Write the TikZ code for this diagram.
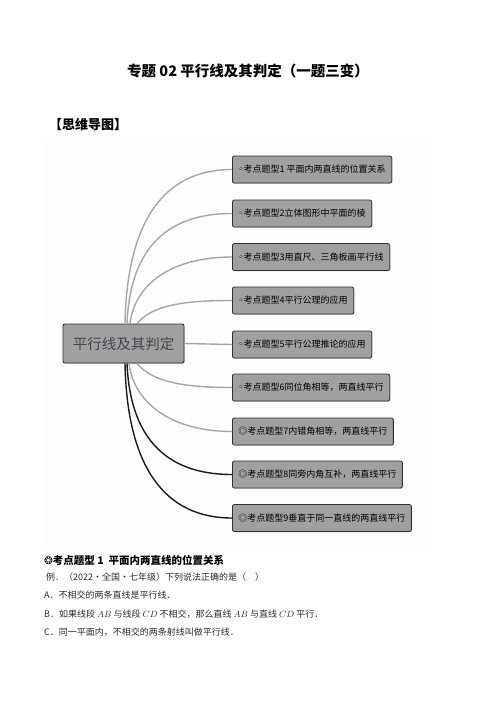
\documentclass[tikz,border=0pt]{standalone}
\usepackage{fontspec}
\setmainfont{Noto Sans CJK SC}
\newfontfamily\symfont{DejaVu Sans}
\usetikzlibrary{shadows}
\definecolor{boxgrey}{HTML}{A0A0A0}
\definecolor{edgedark}{HTML}{30303C}
\definecolor{linkgrey}{HTML}{A6A6A6}
\definecolor{linkdark}{HTML}{1A1A1A}
\definecolor{rootink}{HTML}{45454F}
\definecolor{bodyink}{HTML}{2A2A2A}
\definecolor{mapbg}{HTML}{FDFDFD}

\begin{document}
\begin{tikzpicture}[
    x=1pt, y=-1pt,
    root/.style={draw=edgedark, fill=boxgrey, text=rootink, line width=0.9pt,
                 rounded corners=2pt, minimum width=121pt, minimum height=39pt,
                 inner sep=2pt, font=\fontsize{14.5}{15}\selectfont,
                 drop shadow={shadow xshift=0.8pt, shadow yshift=-0.8pt, opacity=0.35}},
    topic/.style={draw=edgedark, fill=boxgrey, text=black, line width=0.8pt,
                  rounded corners=2pt, minimum height=27pt, anchor=west,
                  inner xsep=6pt, inner ysep=2pt, font=\fontsize{9}{10}\selectfont,
                  drop shadow={shadow xshift=0.8pt, shadow yshift=-0.8pt, opacity=0.35}},
    greylink/.style={draw=linkgrey, line width=1.4pt},
    darklink/.style={draw=linkdark, line width=1.4pt},
    bodytext/.style={anchor=west, inner sep=0pt, text=bodyink,
                     font=\fontsize{9}{10}\selectfont},
  ]
  \useasboundingbox (0,0) rectangle (496,702);

  % Headings.
  \node[font=\fontsize{14.5}{15}\selectfont\bfseries] (title) at (248,71)
    {专题 02 平行线及其判定（一题三变）};
  \node[anchor=west, inner sep=0pt, font=\fontsize{13}{14}\selectfont\bfseries]
    (maphead) at (49,125) {【思维导图】};

  % Mind map.
  \fill[mapbg] (45,137) rectangle (432,550);
  \node[root] (root) at (123.5,343.5) {平行线及其判定};

  \node[topic] (k1) at (232,169.5) {{\symfont ◦}考点题型1 平面内两直线的位置关系};
  \node[topic] (k2) at (232,213.5) {{\symfont ◦}考点题型2立体图形中平面的棱};
  \node[topic] (k3) at (232,257)   {{\symfont ◦}考点题型3用直尺、三角板画平行线};
  \node[topic] (k4) at (232,300.5) {{\symfont ◦}考点题型4平行公理的应用};
  \node[topic] (k5) at (232,344.5) {{\symfont ◦}考点题型5平行公理推论的应用};
  \node[topic] (k6) at (232,387.5) {{\symfont ◦}考点题型6同位角相等，两直线平行};
  \node[topic] (k7) at (232,431.5) {◎考点题型7内错角相等，两直线平行};
  \node[topic] (k8) at (232,474.5) {◎考点题型8同旁内角互补，两直线平行};
  \node[topic] (k9) at (232,518)   {◎考点题型9垂直于同一直线的两直线平行};

  \draw[greylink] ([xshift=1.5pt]root.north) .. controls +(2,-104) and +(-67,0) .. (k1.west);
  \draw[greylink] ([xshift=3.5pt]root.north) .. controls +(3,-70) and +(-70,0) .. (k2.west);
  \draw[greylink] ([xshift=6.5pt]root.north) .. controls +(5,-40) and +(-60,0) .. (k3.west);
  \draw[greylink] ([xshift=13.5pt]root.north) .. controls +(15,-18) and +(-50,0) .. (k4.west);
  \draw[greylink] (root.east) -- (k5.west);
  \draw[greylink] ([xshift=13.5pt]root.south) .. controls +(15,18) and +(-50,0) .. (k6.west);
  \draw[greylink] ([xshift=5.5pt]root.south) .. controls +(5,40) and +(-60,0) .. (k7.west);
  \draw[darklink] ([xshift=3.5pt]root.south) .. controls +(3,70) and +(-70,0) .. (k8.west);
  \draw[darklink] ([xshift=1.5pt]root.south) .. controls +(2,104) and +(-67,0) .. (k9.west);

  % Example below the map.
  \node[bodytext, text=black, font=\fontsize{10.5}{12}\selectfont\bfseries] (qhead) at (44,560)
    {{\symfont ❂}考点题型 1\ \ 平面内两直线的位置关系};
  \node[bodytext] (qstem) at (46,577) {例．（2022·全国·七年级）下列说法正确的是（\quad ）};
  \node[bodytext] (optA) at (44,595) {A．不相交的两条直线是平行线．};
  \node[bodytext] (optB) at (44,614)
    {B．如果线段 $AB$ 与线段 $CD$ 不相交，那么直线 $AB$ 与直线 $CD$ 平行．};
  \node[bodytext] (optC) at (44,632) {C．同一平面内，不相交的两条射线叫做平行线．};
\end{tikzpicture}
\end{document}
